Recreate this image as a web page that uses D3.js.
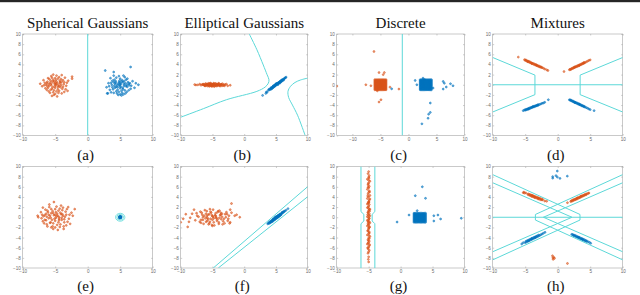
<!DOCTYPE html>
<html>
<head>
<meta charset="utf-8">
<script src="https://cdn.jsdelivr.net/npm/d3@7"></script>
<style>
body { margin: 0; background: #fff; }
svg { display: block; }
</style>
</head>
<body>
<svg id="fig" width="640" height="295"></svg>
<script>
var ORANGE = '#D95319', BLUE = '#0072BD', CYAN = '#5cd8d8'

// ---- tick values ----
var xTicks = [-10, -5, 0, 5, 10]
var yTicks = [-10, -8, -6, -4, -2, 0, 2, 4, 6, 8, 10]

// ---- (a) spherical gaussians ----
var aOrange = [[-5.1,0.2],[-4.6,-0.4],[-5.7,0.8],[-4.2,0.3],[-6.2,-0.3],[-5.0,1.3],[-4.4,-1.2],[-5.5,-0.8],[-3.8,0.9],[-6.0,0.1],
  [-4.8,0.6],[-5.3,-1.5],[-3.3,-0.2],[-6.6,0.4],[-4.9,-0.1],[-5.6,1.7],[-4.1,1.1],[-5.2,-2.0],[-3.9,-0.8],[-6.3,-1.0],
  [-4.5,0.0],[-5.4,0.6],[-2.4,1.2],[-2.4,1.6],[-7.0,-0.3],[-4.0,1.9],[-5.8,-1.6],[-4.7,-2.3],[-3.5,1.4],[-6.1,1.3],
  [-5.0,-0.6],[-4.3,0.5],[-5.6,0.2],[-3.6,-1.4],[-6.5,-0.7],[-4.8,1.8],[-5.2,-1.1],[-3.2,0.4],[-6.2,0.6],[-4.6,-0.9],
  [-5.9,-0.2],[-4.2,-0.5],[-5.3,1.0],[-4.0,-1.7],[-6.8,0.9],[-5.5,-2.2],[-3.7,0.1],[-4.9,0.9],[-5.8,0.4],[-4.4,1.5],
  [-6.4,0.0],[-3.4,-0.9],[-5.1,-0.3],[-4.7,0.3],[-5.9,1.1],[-4.1,-0.1],[-3.0,0.8],[-6.0,-1.3],[-5.4,-0.5],[-4.5,-1.6],
  [-5.7,-1.0],[-4.3,0.8],[-6.7,-0.1],[-5.0,0.4],[-3.8,-0.4],[-5.3,2.0],[-4.6,1.2],[-6.1,-0.6],[-5.6,-0.1],[-3.1,-1.2],
  [-4.8,-1.3],[-5.2,0.7],[-7.3,0.2],[-4.0,0.6],[-5.5,1.4],[-4.4,-0.3],[-6.3,0.3],[-3.6,0.5],[-5.0,-1.8],[-4.9,0.1]]
var aBlue = [[5.1,0.1],[4.6,-0.5],[5.6,0.7],[4.2,0.2],[6.1,-0.4],[5.0,1.2],[4.4,-1.3],[5.4,-0.9],[3.8,0.8],[6.0,0.0],
  [4.8,0.5],[5.3,-1.6],[3.3,-0.3],[6.5,0.3],[4.9,-0.2],[5.7,1.5],[4.1,1.0],[5.2,-2.1],[3.9,-0.9],[6.3,-1.1],
  [4.5,-0.1],[5.4,0.5],[7.8,0.0],[7.2,-0.6],[3.0,-1.7],[4.0,1.8],[5.8,-1.7],[4.7,-2.0],[3.5,1.3],[6.1,1.2],
  [5.0,-0.7],[4.3,0.4],[5.6,0.1],[3.6,-1.5],[6.6,-0.8],[4.8,1.7],[5.2,-1.2],[3.2,0.3],[6.2,0.5],[4.6,-1.0],
  [5.9,-0.3],[4.2,-0.6],[5.3,0.9],[4.0,-1.6],[6.9,0.7],[5.5,-1.9],[3.7,0.0],[4.9,0.8],[5.8,0.3],[4.4,1.4],
  [6.4,-0.1],[3.4,-1.0],[5.1,-0.4],[4.7,0.2],[5.9,1.0],[4.1,-0.2],[2.9,-0.5],[6.0,-1.4],[5.4,-0.6],[4.5,-1.7],
  [5.7,-1.1],[4.3,0.7],[6.7,-0.2],[5.0,0.3],[3.8,-0.5],[2.7,2.8],[6.6,3.5],[4.0,2.5],[5.6,-0.2],[3.1,-1.7],
  [4.8,-1.4],[5.2,0.6],[7.4,0.3],[4.0,0.5],[5.5,1.8],[4.4,-0.4],[6.3,0.2],[3.6,0.4],[5.0,-1.9],[4.9,0.0]]
var aBounds = [[[0,-10],[0,10]]]

// ---- (b) elliptical gaussians ----
var bOrange = [[-5.0,0.05],[-4.5,-0.1],[-5.8,0.15],[-4.0,0.0],[-6.3,-0.12],[-5.3,0.2],[-4.2,-0.2],[-5.5,-0.05],[-3.6,0.1],[-6.0,0.0],
  [-4.8,0.12],[-5.2,-0.25],[-3.2,-0.05],[-6.6,0.08],[-4.9,-0.02],[-5.6,0.28],[-4.1,0.18],[-5.1,-0.3],[-3.9,-0.15],[-6.2,-0.2],
  [-4.4,0.0],[-5.4,0.1],[-2.2,-0.1],[-2.6,-0.2],[-7.6,-0.05],[-4.0,0.3],[-5.8,-0.25],[-4.7,-0.35],[-3.4,0.2],[-6.1,0.22],
  [-5.0,-0.1],[-4.3,0.08],[-5.7,0.03],[-3.5,-0.22],[-6.8,-0.1],[-4.8,0.3],[-5.3,-0.18],[-3.0,0.06],[-6.4,0.1],[-4.6,-0.15],
  [-5.9,-0.03],[-4.2,-0.08],[-5.2,0.16],[-3.8,-0.28],[-7.0,0.12],[-5.5,-0.32],[-3.7,0.02],[-4.9,0.15],[-5.8,0.06],[-4.5,0.24],
  [-6.5,0.0],[-3.3,-0.14],[-5.1,-0.04],[-4.7,0.05],[-6.0,0.18],[-4.1,-0.02],[-2.8,0.12],[-6.1,-0.2],[-5.4,-0.08],[-4.4,-0.26],
  [-5.6,-0.16],[-4.3,0.13],[-7.3,-0.02],[-5.0,0.07],[-3.8,-0.06],[-5.3,0.32],[-4.6,0.2],[-6.2,-0.1],[-5.6,-0.01],[-3.1,-0.2],
  [-4.8,-0.22],[-5.2,0.11],[-7.8,0.03],[-4.0,0.1],[-5.5,0.23],[-4.4,-0.05],[-6.4,0.05],[-3.6,0.08],[-5.0,-0.28],[-4.9,0.01]]
var bBlue = [[3.8,-1.1],[3.9,-0.9],[4.0,-1.0],[4.1,-0.8],[4.2,-0.6],[4.2,-0.9],[4.3,-0.6],[4.4,-0.5],[4.4,-0.7],[4.5,-0.4],
  [4.5,-0.6],[4.6,-0.3],[4.6,-0.5],[4.7,-0.2],[4.7,-0.4],[4.8,-0.1],[4.8,-0.3],[4.9,-0.1],[4.9,0.0],[5.0,0.1],
  [5.0,-0.1],[5.1,0.1],[5.1,0.2],[5.2,0.1],[5.2,0.3],[5.3,0.3],[5.3,0.2],[5.4,0.4],[5.4,0.3],[5.5,0.5],
  [5.5,0.4],[5.6,0.6],[5.6,0.5],[5.7,0.7],[5.7,0.5],[5.8,0.8],[5.8,0.6],[5.9,0.9],[5.9,0.7],[6.0,1.0],
  [6.0,0.8],[6.1,1.0],[6.2,1.1],[6.2,0.9],[6.3,1.2],[6.4,1.3],[6.5,1.4],[6.6,1.5],[5.0,0.2],[4.9,-0.2],
  [5.3,0.0],[4.6,-0.2],[5.6,0.3],[4.3,-0.8],[3.6,-1.5],[3.4,-1.7],[2.9,-2.1],[3.5,-1.4]]
var bCurves = [
  [[0.8,10],[2.0,6.9],[3.0,3.9],[3.6,2.0],[3.9,1.0],[3.8,0.3],[3.3,-0.45],[2.0,-1.3],[-2.8,-2.95],[-6.4,-4.7],[-10,-6.4]],
  [[10,1.3],[8.9,0.95],[8.0,0.45],[7.3,-0.3],[6.9,-1.3],[7.0,-2.5],[7.6,-4.0],[8.4,-6.0],[9.6,-10]]]

// ---- (c) discrete ----
var cOrangeGridX = [-6.0,-5.8,-5.6,-5.4,-5.2,-5.0,-4.8,-4.6,-4.4,-4.2,-4.0]
var cBlueGridX = [2.1,2.3,2.5,2.7,2.9,3.1,3.3,3.5,3.7,3.9,4.1]
var cGridY = [-1.0,-0.8,-0.6,-0.4,-0.2,0.0,0.2,0.4,0.6,0.8,1.0]
var cOrange = [[-6.15,6.55],[-5.25,2.4],[-4.5,2.0],[-4.3,2.4],[-7.6,0.0],[-6.7,-0.2],[-3.3,-0.46],[-1.7,-0.85],
  [-5.55,-1.2],[-4.9,-2.95],[-5.25,-3.4],[-12.8,-0.3]]
var cBlue = [[-3.0,-0.8],[1.2,0.85],[1.5,0.0],[2.6,1.3],[2.9,1.0],[4.4,-0.65],[6.2,0.65],[6.4,0.3],[6.75,-0.45],
  [6.2,-0.85],[7.5,0.2],[7.95,-0.2],[3.9,-3.6],[3.9,-5.45],[3.6,-5.8],[3.5,-6.6],[2.4,-7.7]]
var cBounds = [[[-1.1,-10],[-1.1,10]]]

// ---- (d) mixtures ----
var dOrange = [[-6.06,5.45],[-5.1,4.95],[-5.0,4.8],[-4.9,4.9],[-4.8,4.72],[-4.7,4.62],[-4.6,4.7],[-4.5,4.5],[-4.4,4.6],[-4.3,4.38],
  [-4.2,4.45],[-4.1,4.28],[-4.0,4.3],[-3.9,4.15],[-3.8,4.22],[-3.7,4.02],[-3.6,4.1],[-3.5,3.92],[-3.4,3.98],[-3.3,3.8],
  [-3.2,3.86],[-3.1,3.7],[-3.0,3.74],[-2.9,3.58],[-2.8,3.66],[-2.7,3.46],[-2.6,3.52],[-2.4,3.36],[-2.2,3.25],[-2.0,3.1],
  [-1.7,2.95],[-1.5,2.8],[-4.6,4.55],[-4.0,4.18],[-3.3,3.9],[-2.5,3.45],
  [0.97,2.6],[1.8,2.95],[1.9,3.05],[2.0,2.98],[2.1,3.18],[2.2,3.15],[2.3,3.3],[2.4,3.25],[2.5,3.42],[2.6,3.38],
  [2.7,3.55],[2.8,3.5],[2.9,3.66],[3.0,3.6],[3.1,3.78],[3.2,3.72],[3.3,3.9],[3.4,3.85],[3.5,4.02],[3.6,3.96],
  [3.7,4.14],[3.8,4.1],[3.9,4.26],[4.0,4.2],[4.1,4.38],[4.2,4.35],[4.4,4.52],[4.6,4.64],[4.8,4.8],[5.0,4.9],
  [3.3,3.78],[2.6,3.5],[4.0,4.35]]
var dBlue = [[-5.3,-5.1],[-5.1,-4.95],[-5.0,-5.02],[-4.9,-4.86],[-4.8,-4.92],[-4.7,-4.78],[-4.6,-4.84],[-4.5,-4.66],[-4.4,-4.74],[-4.3,-4.55],
  [-4.2,-4.64],[-4.1,-4.45],[-4.0,-4.52],[-3.9,-4.35],[-3.8,-4.42],[-3.7,-4.26],[-3.6,-4.33],[-3.5,-4.16],[-3.4,-4.24],[-3.3,-4.07],
  [-3.2,-4.15],[-3.1,-3.98],[-3.0,-4.05],[-2.8,-3.88],[-2.6,-3.8],[-2.4,-3.66],[-2.2,-3.6],[-2.0,-3.46],[-1.44,-2.95],[-4.5,-4.8],
  [-3.8,-4.3],[-3.0,-3.92],
  [1.8,-2.95],[1.9,-3.05],[2.0,-2.98],[2.1,-3.18],[2.2,-3.12],[2.3,-3.3],[2.4,-3.25],[2.5,-3.42],[2.6,-3.38],[2.7,-3.55],
  [2.8,-3.5],[2.9,-3.66],[3.0,-3.6],[3.1,-3.78],[3.2,-3.72],[3.3,-3.9],[3.4,-3.85],[3.5,-4.02],[3.6,-3.96],[3.7,-4.14],
  [3.8,-4.1],[3.9,-4.26],[4.0,-4.2],[4.1,-4.38],[4.2,-4.34],[4.4,-4.52],[4.6,-4.62],[4.8,-4.78],[5.0,-4.9],[5.6,-5.1],
  [3.3,-3.8],[2.6,-3.48]]
var dBounds = [[[-10,0],[10,0]],
  [[-10,5.37],[-3.5,1.9],[-3.5,-1.95],[-10,-5.37]],
  [[10,5.37],[3.45,1.9],[3.45,-1.95],[10,-5.37]]]

// ---- (e) ----
var eOrange = [[-5.2,0.4],[-4.4,-0.6],[-6.1,1.0],[-3.8,0.3],[-6.6,-0.5],[-5.0,1.6],[-4.2,-1.4],[-5.7,-1.0],[-3.4,1.1],[-6.3,0.1],
  [-4.7,0.7],[-5.4,-1.8],[-2.9,-0.3],[-7.0,0.5],[-4.9,-0.1],[-5.9,2.0],[-3.9,1.4],[-5.3,-2.3],[-3.6,-1.0],[-6.7,-1.2],
  [-4.4,0.0],[-5.6,0.8],[-2.0,1.6],[-2.3,0.3],[-7.6,0.0],[-3.8,1.9],[-6.2,-1.8],[-4.6,-2.5],[-3.2,1.6],[-6.5,1.5],
  [-5.0,-0.7],[-4.1,0.6],[-5.8,0.3],[-3.3,-1.6],[-6.9,-0.8],[-4.8,2.1],[-5.3,-1.2],[-2.8,0.5],[-6.4,0.7],[-4.5,-1.0],
  [-6.0,-0.2],[-4.0,-0.5],[-5.4,1.2],[-3.7,-1.8],[-7.2,1.0],[-5.6,-2.0],[-3.5,0.1],[-4.9,1.0],[-6.0,0.5],[-4.3,1.7],
  [-6.8,0.2],[-3.1,-0.9],[-5.1,-0.3],[-4.6,0.3],[-6.2,1.3],[-4.0,-0.1],[-2.5,0.9],[-6.3,-1.4],[-5.5,-0.5],[-4.3,-1.9],
  [-5.8,-1.1],[-4.2,0.9],[-7.1,-0.2],[-5.0,0.5],[-3.6,-0.4],[-5.2,3.0],[-4.5,1.3],[-6.4,-0.6],[-5.7,-0.1],[-2.7,-1.3],
  [-4.7,-1.5],[-5.3,0.8],[-7.7,0.3],[-3.9,0.6],[-5.6,1.6],[-4.4,-0.3],[-6.6,0.4],[-3.3,0.5],[-5.0,-2.0],[-4.8,0.2],
  [-3.0,2.0],[-5.9,2.5],[-4.1,2.3],[-6.9,1.9],[-3.7,-2.3]]
var eBlue = [[5.0,0.0],[4.9,0.1],[5.1,-0.1],[4.95,-0.15],[5.05,0.12],[4.85,-0.05],[5.15,0.05],[5.0,0.18],[4.92,-0.2],
  [5.08,-0.1],[4.88,0.15],[5.12,0.15],[5.0,-0.1],[5.02,0.05],[4.97,-0.03]]
var eRings = [{cx: 5, cy: 0, rx: 0.72, ry: 0.78}, {cx: 5, cy: 0, rx: 0.52, ry: 0.56}]

// ---- (f) ----
var fOrange = [[-5.0,0.2],[-4.2,-0.4],[-6.0,0.7],[-3.5,0.1],[-6.8,-0.5],[-5.3,1.1],[-4.0,-1.0],[-5.8,-0.7],[-3.0,0.6],[-6.5,0.0],
  [-4.6,0.4],[-5.5,-1.2],[-2.5,-0.3],[-7.4,0.3],[-4.8,-0.2],[-6.2,1.4],[-3.7,0.9],[-5.1,-1.5],[-3.3,-0.8],[-7.0,-0.9],
  [-4.4,0.0],[-5.7,0.5],[-2.0,2.7],[-2.2,-1.0],[-8.5,-0.1],[-3.9,1.3],[-6.4,-1.3],[-4.7,-1.6],[-2.8,1.0],[-6.9,1.1],
  [-5.0,-0.5],[-3.8,0.4],[-5.9,0.2],[-3.1,-1.2],[-7.7,-0.6],[-4.9,1.5],[-5.4,-0.9],[-2.4,0.3],[-6.6,0.5],[-4.3,-0.7],
  [-6.1,-0.2],[-3.6,-0.4],[-5.2,0.9],[-3.4,-1.4],[-8.2,0.7],[-5.6,-1.4],[-2.9,0.0],[-4.5,0.8],[-6.3,0.3],[-4.1,1.2],
  [-7.2,0.1],[-2.6,-0.7],[-5.3,-0.3],[-4.5,0.3],[-6.7,0.9],[-3.9,-0.1],[-1.5,0.3],[-6.8,-1.1],[-5.7,-0.4],[-4.0,-1.3],
  [-6.0,-0.9],[-3.5,0.7],[-8.7,-0.9],[-5.1,0.4],[-3.2,-0.3],[-5.4,1.6],[-4.2,1.0],[-6.5,-0.5],[-5.8,-0.1],[-2.3,-1.2],
  [-4.8,-1.0],[-5.5,0.6],[-10.0,-1.0],[-3.7,0.5],[-5.9,1.2],[-4.4,-0.2],[-7.5,0.8],[-2.7,0.6],[-5.0,-1.7],[-4.9,0.1],
  [-0.7,0.0],[-9.2,0.6],[-8.9,-1.9],[-7.9,1.5],[-2.2,1.5],[-1.2,0.5],[-9.6,-0.3],[-2.0,0.9]]
var fBlue = [[3.7,-1.3],[3.8,-1.2],[3.9,-1.1],[4.0,-1.2],[4.0,-0.9],[4.1,-1.0],[4.2,-0.8],[4.2,-1.0],[4.3,-0.7],[4.4,-0.8],
  [4.4,-0.6],[4.5,-0.5],[4.5,-0.8],[4.6,-0.4],[4.6,-0.6],[4.7,-0.3],[4.7,-0.5],[4.8,-0.2],[4.8,-0.5],[4.9,-0.1],
  [4.9,-0.3],[5.0,0.0],[5.0,-0.3],[5.1,0.1],[5.1,-0.1],[5.2,0.2],[5.2,-0.1],[5.3,0.3],[5.3,0.0],[5.4,0.4],
  [5.4,0.1],[5.5,0.4],[5.5,0.2],[5.6,0.6],[5.6,0.3],[5.7,0.6],[5.7,0.4],[5.8,0.7],[5.8,0.5],[5.9,0.8],
  [6.0,0.8],[6.0,1.0],[6.1,1.0],[6.2,1.0],[6.3,1.2],[6.4,1.2],[6.6,1.4],[6.9,1.7],[5.0,0.1],[4.9,0.0],
  [5.3,0.2],[4.6,-0.3],[5.6,0.5],[4.3,-0.9],[5.2,0.0],[5.4,0.3]]
var fBounds = [[[-4.87,-10],[10,6.03]], [[-4.08,-10],[10,4.05]]]

// ---- (g) ----
var gOrange = [[-5.0,9.0],[-5.1,8.6],[-4.9,8.2],[-5.0,7.9],[-5.2,7.5],[-4.8,7.1],[-5.0,6.8],[-5.1,6.4],[-4.9,6.1],[-5.0,5.8],
  [-5.2,5.5],[-4.9,5.2],[-5.0,4.9],[-5.1,4.6],[-4.8,4.3],[-5.0,4.0],[-5.2,3.7],[-4.9,3.4],[-5.0,3.1],[-5.1,2.8],
  [-4.9,2.5],[-5.0,2.2],[-5.2,1.9],[-4.8,1.6],[-5.0,1.3],[-5.1,1.0],[-4.9,0.7],[-5.0,0.4],[-5.2,0.1],[-4.9,-0.2],
  [-5.0,-0.5],[-5.1,-0.8],[-4.8,-1.1],[-5.0,-1.4],[-5.2,-1.7],[-4.9,-2.0],[-5.0,-2.3],[-5.1,-2.6],[-4.9,-2.9],[-5.0,-3.2],
  [-5.2,-3.5],[-4.8,-3.8],[-5.0,-4.1],[-5.1,-4.4],[-4.9,-4.7],[-5.0,-5.0],[-5.2,-5.3],[-4.9,-5.6],[-5.0,-5.9],[-5.1,-6.2],
  [-4.9,-6.5],[-5.0,-6.8],[-5.1,-7.1],[-5.0,-7.8],[-5.05,-8.3],[-5.0,-8.8],
  [-4.95,7.7],[-5.05,6.6],[-4.85,5.0],[-5.15,4.2],[-4.95,3.0],[-5.05,2.0],[-4.85,1.2],[-5.15,0.5],[-4.95,-0.3],[-5.05,-1.0],
  [-4.85,-1.9],[-5.15,-2.7],[-4.95,-3.6],[-5.05,-4.6],[-4.85,-5.4],[-5.15,-6.0],[-5.0,1.7],[-5.1,0.9],[-4.9,-0.9],[-5.0,-1.6],
  [-5.2,2.6],[-4.8,3.6],[-5.0,-2.1],[-4.9,-3.1],[-5.1,5.9],[-5.0,7.3],[-4.9,-4.2],[-5.1,-5.1],[-5.0,0.0],[-4.8,0.3],
  [-5.2,-0.6],[-4.9,1.5],[-5.0,2.9],[-5.1,-1.3]]
var gBlueGridX = [2.1,2.3,2.5,2.7,2.9,3.1,3.3,3.5,3.7,3.9]
var gBlueGridY = [-1.0,-0.8,-0.6,-0.4,-0.2,0.0,0.2,0.4,0.6,0.8]
var gBlue = [[-0.55,-0.94],[1.32,0.44],[2.6,1.3],[2.3,4.25],[3.4,6.0],[3.9,3.73],[5.2,0.3],[5.2,-0.74],
  [5.84,0.44],[6.26,-0.34],[9.5,-0.2]]
var gBounds = [
  [[-6.2,10],[-6.2,1.1],[-5.75,0.58],[-5.75,-0.74],[-6.2,-1.27],[-6.2,-10]],
  [[-4.03,10],[-4.03,1.1],[-4.45,0.58],[-4.45,-0.74],[-4.03,-1.27],[-4.03,-10]]]

// ---- (h) ----
var hOrange = [[-5.3,4.85],[-5.2,4.95],[-5.1,4.75],[-4.9,4.8],[-4.6,4.5],[-4.5,4.6],[-4.4,4.35],[-4.3,4.5],[-4.2,4.25],[-4.1,4.4],
  [-4.0,4.1],[-3.9,4.3],[-3.8,4.05],[-3.7,4.2],[-3.6,3.9],[-3.5,4.1],[-3.4,3.85],[-3.3,4.0],[-3.2,3.75],[-3.1,3.9],
  [-3.0,3.6],[-2.9,3.8],[-2.8,3.55],[-2.7,3.7],[-2.6,3.45],[-2.5,3.6],[-2.4,3.4],[-2.3,3.5],[-2.0,3.2],[-1.7,3.15],
  [-4.0,4.3],[-3.5,3.95],[-3.0,3.75],[-3.8,4.2],
  [1.5,2.87],[2.0,3.1],[2.1,3.25],[2.2,3.15],[2.3,3.4],[2.4,3.3],[2.5,3.5],[2.6,3.4],[2.7,3.6],[2.8,3.5],
  [2.9,3.7],[3.0,3.62],[3.1,3.85],[3.2,3.75],[3.3,3.95],[3.4,3.85],[3.5,4.1],[3.6,4.0],[3.7,4.2],[3.8,4.12],
  [3.9,4.32],[4.0,4.22],[4.1,4.45],[4.2,4.35],[4.3,4.55],[4.4,4.45],[4.5,4.65],[4.7,4.7],[4.8,4.78],[3.0,3.8],[3.6,4.15],
  [-0.8,-7.6],[-0.6,-7.9],[-0.7,-8.3],[-0.5,-8.1],[-0.75,-8.0],[1.5,-9.1]]
var hBlue = [[-5.54,-5.27],[-5.3,-5.0],[-5.0,-5.0],[-4.9,-4.75],[-4.8,-4.9],[-4.7,-4.6],[-4.6,-4.75],[-4.5,-4.5],[-4.4,-4.62],[-4.3,-4.38],
  [-4.2,-4.5],[-4.1,-4.25],[-4.0,-4.38],[-3.9,-4.12],[-3.8,-4.25],[-3.7,-4.0],[-3.6,-4.12],[-3.5,-3.88],[-3.4,-4.0],[-3.3,-3.75],
  [-3.2,-3.88],[-3.1,-3.62],[-3.0,-3.75],[-2.9,-3.5],[-2.8,-3.62],[-2.6,-3.45],[-2.4,-3.3],[-2.2,-3.15],[-1.95,-2.97],[-4.0,-4.2],
  [-3.5,-4.0],[-4.5,-4.65],
  [2.15,-3.37],[2.3,-3.4],[2.4,-3.6],[2.5,-3.5],[2.6,-3.7],[2.7,-3.6],[2.8,-3.82],[2.9,-3.72],[3.0,-3.95],[3.1,-3.85],
  [3.2,-4.05],[3.3,-3.95],[3.4,-4.18],[3.5,-4.08],[3.6,-4.3],[3.7,-4.2],[3.8,-4.42],[3.9,-4.32],[4.0,-4.55],[4.1,-4.42],
  [4.2,-4.65],[4.3,-4.55],[4.4,-4.78],[4.5,-4.68],[4.7,-4.85],[4.9,-4.95],[5.08,-5.14],[3.2,-3.95],[3.8,-4.3],
  [-0.06,9.1],[-0.77,8.0],[-0.26,8.2],[-0.05,7.9],[0.35,7.66],[1.48,8.1],[-0.77,7.7]]
var hBounds = [
  [[-10,0],[10,0]],
  [[-10,8.4],[3.43,0.55]], [[10,8.4],[-3.43,0.55]],
  [[-10,-8.4],[3.43,-0.55]], [[10,-8.4],[-3.43,-0.55]],
  [[-3.43,0.55],[-3.43,-0.55]], [[3.43,0.55],[3.43,-0.55]],
  [[-10,6.8],[2.2,0]], [[10,6.8],[-2.2,0]],
  [[-10,-6.8],[2.2,0]], [[10,-6.8],[-2.2,0]]]

function grid(xs, ys) {
  var out = []
  xs.forEach(function(x) { ys.forEach(function(y) { out.push([x, y]) }) })
  return out
}

var cols = [[22.7,152.7],[180.7,307.7],[336.7,464.5],[492.7,622.7]]
var rows = [[34,135.5],[166.5,268]]

var panels = [
  {row:0, col:0, title:'Spherical Gaussians', label:'(a)', xd:[-10,10], orange:aOrange, blue:aBlue, lines:aBounds},
  {row:0, col:1, title:'Elliptical Gaussians', label:'(b)', xd:[-10,10], orange:bOrange, blue:bBlue, curves:bCurves},
  {row:0, col:2, title:'Discrete', label:'(c)', xd:[-12.8,10],
    orange:cOrange.concat(grid(cOrangeGridX, cGridY)), blue:cBlue.concat(grid(cBlueGridX, cGridY)), lines:cBounds},
  {row:0, col:3, title:'Mixtures', label:'(d)', xd:[-10,10], orange:dOrange, blue:dBlue, lines:dBounds},
  {row:1, col:0, label:'(e)', xd:[-10,10], orange:eOrange, blue:eBlue, rings:eRings},
  {row:1, col:1, label:'(f)', xd:[-10,10], orange:fOrange, blue:fBlue, lines:fBounds},
  {row:1, col:2, label:'(g)', xd:[-10,10], orange:gOrange, blue:gBlue.concat(grid(gBlueGridX, gBlueGridY)), lines:gBounds},
  {row:1, col:3, label:'(h)', xd:[-10,10], orange:hOrange, blue:hBlue, lines:hBounds}
]

var svg = d3.select('#fig')

// dark strip on top of the page
svg.append('rect').attr('x',0).attr('y',0).attr('width',640).attr('height',2.2).attr('fill','#262626')

panels.forEach(function(p) {
  var x = d3.scaleLinear().domain(p.xd).range(cols[p.col])
  var y = d3.scaleLinear().domain([-10,10]).range([rows[p.row][1], rows[p.row][0]])
  var g = svg.append('g')
  var x0 = cols[p.col][0], x1 = cols[p.col][1], y0 = rows[p.row][0], y1 = rows[p.row][1]
  var cx = (x0 + x1) / 2

  // axes
  var gx = g.append('g').attr('transform','translate(0,' + y1 + ')')
    .call(d3.axisBottom(x).tickValues(xTicks).tickSize(-1.5).tickPadding(2.2).tickSizeOuter(0))
  var gxTop = g.append('g').attr('transform','translate(0,' + y0 + ')')
    .call(d3.axisTop(x).tickValues(xTicks).tickSize(-1.5).tickFormat('').tickSizeOuter(0))
  var gy = g.append('g').attr('transform','translate(' + x0 + ',0)')
    .call(d3.axisLeft(y).tickValues(yTicks).tickSize(-1.5).tickPadding(1.8).tickSizeOuter(0))
  var gyR = g.append('g').attr('transform','translate(' + x1 + ',0)')
    .call(d3.axisRight(y).tickValues(yTicks).tickSize(-1.5).tickFormat('').tickSizeOuter(0))
  ;[gx, gxTop, gy, gyR].forEach(function(a) {
    a.select('.domain').remove()
    a.selectAll('line').attr('stroke','#9a9a9a').attr('stroke-width',0.5)
    a.selectAll('text').attr('font-size','4.6px').attr('font-family','Liberation Sans, Arial, sans-serif').attr('fill','#6a6a6a')
  })
  g.append('rect').attr('x',x0).attr('y',y0).attr('width',x1-x0).attr('height',y1-y0)
    .attr('fill','none').attr('stroke','#a6a6a6').attr('stroke-width',0.6)

  var clip = 'clip' + p.row + p.col
  svg.append('clipPath').attr('id',clip).append('rect')
    .attr('x',x0).attr('y',y0).attr('width',x1-x0).attr('height',y1-y0)
  var plot = g.append('g').attr('clip-path','url(#' + clip + ')')

  function dots(data, color) {
    plot.append('g').selectAll('circle').data(data).join('circle')
      .attr('cx', function(d) { return x(d[0]) })
      .attr('cy', function(d) { return y(d[1]) })
      .attr('r', 0.95)
      .attr('fill', color).attr('fill-opacity', 0.55)
      .attr('stroke', color).attr('stroke-width', 0.55)
  }
  dots(p.orange, ORANGE)
  dots(p.blue, BLUE)

  var line = d3.line().x(function(d) { return x(d[0]) }).y(function(d) { return y(d[1]) })
  if (p.lines) {
    plot.append('g').selectAll('path').data(p.lines).join('path')
      .attr('d', line).attr('fill','none').attr('stroke',CYAN).attr('stroke-width',1)
  }
  if (p.curves) {
    var curve = d3.line().x(function(d) { return x(d[0]) }).y(function(d) { return y(d[1]) }).curve(d3.curveCatmullRom)
    plot.append('g').selectAll('path').data(p.curves).join('path')
      .attr('d', curve).attr('fill','none').attr('stroke',CYAN).attr('stroke-width',1)
  }
  if (p.rings) {
    plot.append('g').selectAll('ellipse').data(p.rings).join('ellipse')
      .attr('cx', function(d) { return x(d.cx) }).attr('cy', function(d) { return y(d.cy) })
      .attr('rx', function(d) { return x(d.cx + d.rx) - x(d.cx) })
      .attr('ry', function(d) { return y(d.cy) - y(d.cy + d.ry) })
      .attr('fill','none').attr('stroke',CYAN).attr('stroke-width',0.8)
  }

  if (p.title) {
    svg.append('text').text(p.title).attr('x', cx).attr('y', 28)
      .attr('text-anchor','middle').attr('font-family','Liberation Serif, Times New Roman, serif')
      .attr('font-size','15px').attr('fill','#111')
  }
  svg.append('text').text(p.label).attr('x', cx - 2).attr('y', p.row === 0 ? 159.5 : 290.5)
    .attr('text-anchor','middle').attr('font-family','Liberation Serif, Times New Roman, serif')
    .attr('font-size','15px').attr('fill','#111')
})
</script>
</body>
</html>
